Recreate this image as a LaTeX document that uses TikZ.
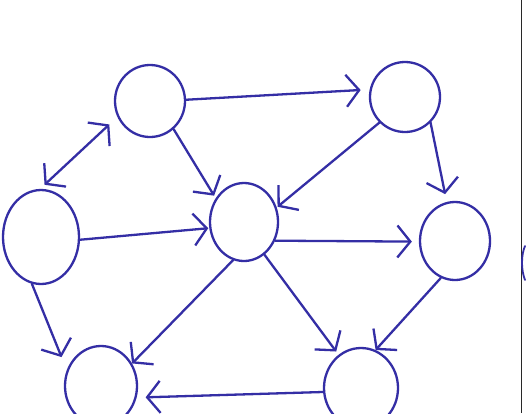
\documentclass[tikz,border=0pt]{standalone}
\usetikzlibrary{shapes.geometric,arrows.meta}
\definecolor{ink}{RGB}{52,46,165}
\definecolor{edgegray}{RGB}{40,40,40}
\begin{document}
\begin{tikzpicture}[x=1pt,y=-1pt,
  pen/.style={draw=ink,line width=2.3pt,line cap=round,line join=round},
  vertex/.style={pen,ellipse,inner sep=0pt},
  link/.style={pen,-{Straight Barb[length=13pt,width=32pt]}},
]
\fill[white] (0,0) rectangle (526,413);
\useasboundingbox (0,0) rectangle (526,413);

% vertices
\node[vertex,minimum width=70pt,minimum height=72pt] (A) at (150,101) {};
\node[vertex,minimum width=70pt,minimum height=70pt] (B) at (405,97) {};
\node[vertex,minimum width=76pt,minimum height=94pt] (C) at (41,237) {};
\node[vertex,minimum width=68pt,minimum height=78pt] (D) at (244,222) {};
\node[vertex,minimum width=70pt,minimum height=78pt] (E) at (455,241) {};
\node[vertex,minimum width=72pt,minimum height=80pt] (F) at (101,386) {};
\node[vertex,minimum width=74pt,minimum height=80pt] (G) at (361,388) {};

% directed edges
\draw[link,shorten >=9pt] (A.2) -- (B.168);
\draw[link,shorten >=3pt] (A.-50) -- (D.140);
\draw[pen,{Straight Barb[length=13pt,width=32pt]}-{Straight Barb[length=13pt,width=32pt]},
      shorten <=11pt,shorten >=6pt] (A.206) -- (C.91);
\draw[link,shorten >=1pt] (C.-4) -- (D.190);
\draw[link,shorten >=1pt] (B.225) -- (D.24);
\draw[link,shorten >=8pt] (B.-45) -- (E.102);
\draw[link,shorten >=7pt] (D.-31) -- (E.181);
\draw[link] (D.254) -- (F.36);
\draw[link,shorten >=14pt] (C.259) -- (F.155);
\draw[link,shorten >=4pt] (D.302) -- (G.124);
\draw[link] (E.249) -- (G.69);
\draw[link,shorten >=9pt] (G.186) -- (F.342);

% edge of the sheet
\draw[edgegray,line width=1.3pt] (521.5,0) -- (521.5,413);
\draw[pen,line width=1.8pt] (525,246) .. controls (521,255) and (521,270) .. (525,280);
\end{tikzpicture}
\end{document}
